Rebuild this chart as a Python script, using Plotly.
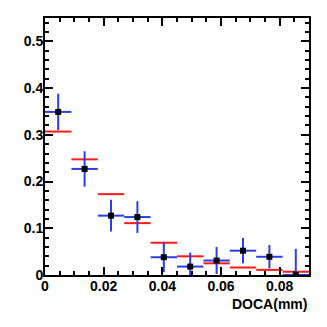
import plotly.graph_objects as go

# bin centres (width 0.009 mm)
bin_centers = [0.0045, 0.0135, 0.0225, 0.0315, 0.0405, 0.0495, 0.0585, 0.0675, 0.0765, 0.0855]
bin_half = [0.0045] * 10

# data points with errors
data_y = [0.349, 0.227, 0.127, 0.124, 0.038, 0.018, 0.031, 0.052, 0.039, 0.0]
data_err = [0.039, 0.038, 0.034, 0.034, 0.032, 0.030, 0.029, 0.027, 0.025, 0.056]

# reference histogram (red)
ref_y = [0.307, 0.2475, 0.173, 0.111, 0.069, 0.040, 0.025, 0.016, 0.011, 0.007]

fig = go.Figure()

fig.add_trace(go.Scatter(
    x=bin_centers, y=ref_y, mode="markers",
    marker=dict(size=1, color="rgba(0,0,0,0)"),
    error_x=dict(type="data", array=bin_half, color="#ff1a1a", thickness=2, width=0),
    showlegend=False,
))

fig.add_trace(go.Scatter(
    x=bin_centers, y=data_y, mode="markers",
    marker=dict(symbol="square", size=6, color="black"),
    error_x=dict(type="data", array=bin_half, color="#2a3cf0", thickness=2, width=0),
    error_y=dict(type="data", array=data_err, color="#2a3cf0", thickness=2, width=0),
    showlegend=False,
))

fnt = "Liberation Sans Narrow, Arial Narrow, Liberation Sans, Arial"
tickfont = dict(family=fnt, size=14, color="black", weight="bold")

fig.update_xaxes(
    range=[0, 0.09], tickvals=[0, 0.02, 0.04, 0.06, 0.08], ticktext=["0", "0.02", "0.04", "0.06", "0.08"],
    ticks="inside", ticklen=8, tickwidth=1.5, tickcolor="black",
    minor=dict(dtick=0.005, tick0=0, ticks="inside", ticklen=4, tickcolor="black", tickwidth=1.5),
    showline=True, linecolor="black", linewidth=2, mirror="allticks",
    showgrid=False, zeroline=False, tickfont=tickfont, ticklabelstandoff=-3,
)
fig.update_yaxes(
    range=[0, 0.55], tickvals=[0, 0.1, 0.2, 0.3, 0.4, 0.5], ticktext=["0", "0.1", "0.2", "0.3", "0.4", "0.5"],
    ticks="inside", ticklen=8, tickwidth=1.5, tickcolor="black",
    minor=dict(dtick=0.02, tick0=0, ticks="inside", ticklen=4, tickcolor="black", tickwidth=1.5),
    showline=True, linecolor="black", linewidth=2, mirror="allticks",
    showgrid=False, zeroline=False, tickfont=tickfont, ticklabelstandoff=-3,
)

fig.add_annotation(
    text="DOCA(mm)", xref="paper", yref="paper", x=1, y=-0.075,
    xanchor="right", yanchor="top", showarrow=False,
    font=dict(family=fnt, size=14, color="black", weight="bold"),
)

# the page body has an 8px margin, so the figure is shrunk and offset to fit the window
fig.update_layout(
    width=311, height=311,
    margin=dict(l=37, r=9, t=8, b=44),
    paper_bgcolor="white", plot_bgcolor="white",
)

fig.write_html("out.html")
